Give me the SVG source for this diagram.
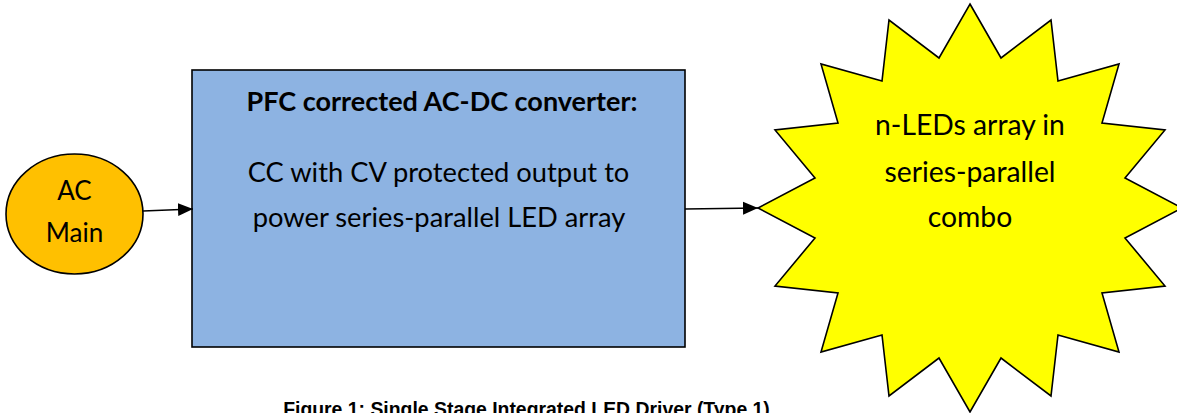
<svg xmlns="http://www.w3.org/2000/svg" width="1177" height="413" viewBox="0 0 1177 413">
<style>
.shape{stroke:#000;stroke-width:1.6;stroke-linejoin:miter}
.t{font-family:Lato,"Open Sans",sans-serif;font-size:27.3px;fill:#000;text-anchor:middle}
.s{font-size:26px}
.l{font-size:28.3px}
.b{font-weight:bold;font-size:27px}
.cap{font-family:"Liberation Sans",Arial,sans-serif;font-size:19.4px;font-weight:bold;fill:#000;text-anchor:middle}
.conn{stroke:#000;stroke-width:1.6;fill:none}
</style>
<defs>
<marker id="arr" markerUnits="userSpaceOnUse" markerWidth="16" markerHeight="14" refX="15" refY="7" orient="auto">
<path d="M0,0.5 L15,7 L0,13.5 Z" fill="#000"/>
</marker>
</defs>
<rect width="1177" height="413" fill="#fff"/>
<g id="ac-main">
<ellipse class="shape" cx="74.5" cy="214" rx="68.5" ry="60" fill="#FFC000"/>
<text class="t s" x="74.5" y="200">AC</text>
<text class="t s" x="74.5" y="242">Main</text>
</g>
<g id="converter">
<rect class="shape" x="192" y="70" width="493" height="277" fill="#8DB3E2"/>
<text class="t b" x="442" y="111">PFC corrected AC-DC converter:</text>
<text class="t" x="438.5" y="182">CC with CV protected output to</text>
<text class="t" x="439" y="227">power series-parallel LED array</text>
</g>
<g id="led-array">
<polygon class="shape" fill="#FFFF00" points="970,4 1001,58 1051,20 1058,81 1119,64 1102,123 1165,130 1125,178 1182,208 1125,238 1165,286 1102,293 1119,352 1058,335 1051,396 1001,358 970,412 939,358 889,396 882,335 821,352 838,293 775,286 815,238 758,208 815,178 775,130 838,123 821,64 882,81 889,20 939,58"/>
<text class="t l" x="970" y="135">n-LEDs array in</text>
<text class="t l" x="970" y="182">series-parallel</text>
<text class="t l" x="970" y="227">combo</text>
</g>
<g id="connectors">
<line class="conn" x1="143" y1="211" x2="193" y2="209" marker-end="url(#arr)"/>
<line class="conn" x1="685" y1="209" x2="758" y2="208" marker-end="url(#arr)"/>
</g>
<text class="cap" x="526.5" y="416">Figure 1: Single Stage Integrated LED Driver (Type 1)</text>
</svg>
